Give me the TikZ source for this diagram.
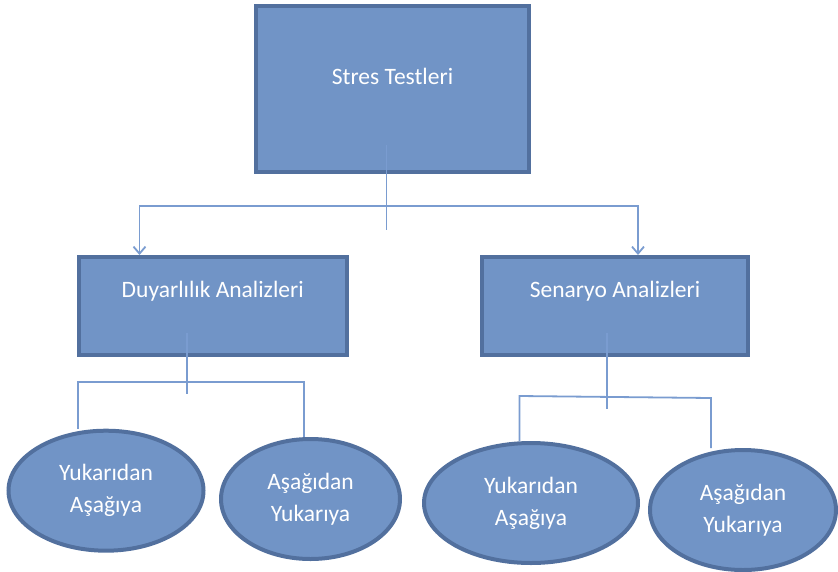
\documentclass[tikz,border=0pt]{standalone}
\usepackage{fontspec}
\setmainfont{Carlito}
\usetikzlibrary{shapes.geometric,arrows.meta}
\definecolor{boxfill}{HTML}{7194C6}
\definecolor{boxline}{HTML}{52709E}
\definecolor{connline}{HTML}{7A9CD0}
\tikzset{
  boxnode/.style={draw=boxline, fill=boxfill, line width=4pt, rectangle, inner sep=0pt},
  ellnode/.style={draw=boxline, fill=boxfill, line width=4pt, ellipse, inner sep=0pt, minimum height=120pt,
     text=white, align=center, font=\fontsize{23.5}{32}\selectfont},
  boxlabel/.style={text=white, font=\fontsize{23.5}{28}\selectfont},
  conn/.style={draw=connline, line width=1.8pt},
  arr/.style={conn, -{Straight Barb[length=7pt,width=12pt,line width=1.8pt]}}
}
\begin{document}
\begin{tikzpicture}[x=1pt,y=-1pt]
\useasboundingbox (0,0) rectangle (838,571);
% boxes
\node[boxnode, minimum width=273pt, minimum height=166pt,
  label={[boxlabel, yshift=12.5pt]center:Stres Testleri}] (top) at (392.5,89) {};
\node[boxnode, minimum width=267.5pt, minimum height=98pt,
  label={[boxlabel, yshift=15pt]center:Duyarlılık Analizleri}] (duy) at (212.75,306) {};
\node[boxnode, minimum width=266pt, minimum height=98pt,
  label={[boxlabel, yshift=15pt]center:Senaryo Analizleri}] (sen) at (615,306) {};
% coordinates
\coordinate (t0) at (386.4,145);
\coordinate (t1) at (386.4,230);
\coordinate (tj) at (386.4,206);
\coordinate (tl) at (139.5,206);
\coordinate (tr) at (638,206);
\coordinate (al) at (139.5,255);
\coordinate (ar) at (638,255);
\coordinate (d0) at (187,333);
\coordinate (d1) at (187,394);
\coordinate (dl) at (78,382);
\coordinate (dr) at (303.6,382);
\coordinate (s0) at (607,333);
\coordinate (s1) at (607,408.6);
\coordinate (sl) at (519.5,396);
\coordinate (sr) at (711,398);
% ellipses
\node[ellnode, minimum width=195pt] (e1) at (106,490.7) {Yukarıdan\\Aşağıya};
\node[ellnode, minimum width=179pt] (e2) at (310.5,499) {Aşağıdan\\Yukarıya};
\node[ellnode, minimum width=214pt] (e3) at (531,503) {Yukarıdan\\Aşağıya};
\node[ellnode, minimum width=186pt] (e4) at (743,510) {Aşağıdan\\Yukarıya};
% connectors
\draw[conn] (t0) -- (t1);
\draw[arr] (tj) -- (tl) -- (al);
\draw[arr] (tj) -- (tr) -- (ar);
\draw[conn] (d0) -- (d1);
\draw[conn] (e1.north -| dl) -- (dl) -- (dr) -- (e2.north -| dr);
\draw[conn] (s0) -- (s1);
\draw[conn] (e3.north -| sl) -- (sl) -- (sr) -- (e4.north -| sr);
\end{tikzpicture}
\end{document}
